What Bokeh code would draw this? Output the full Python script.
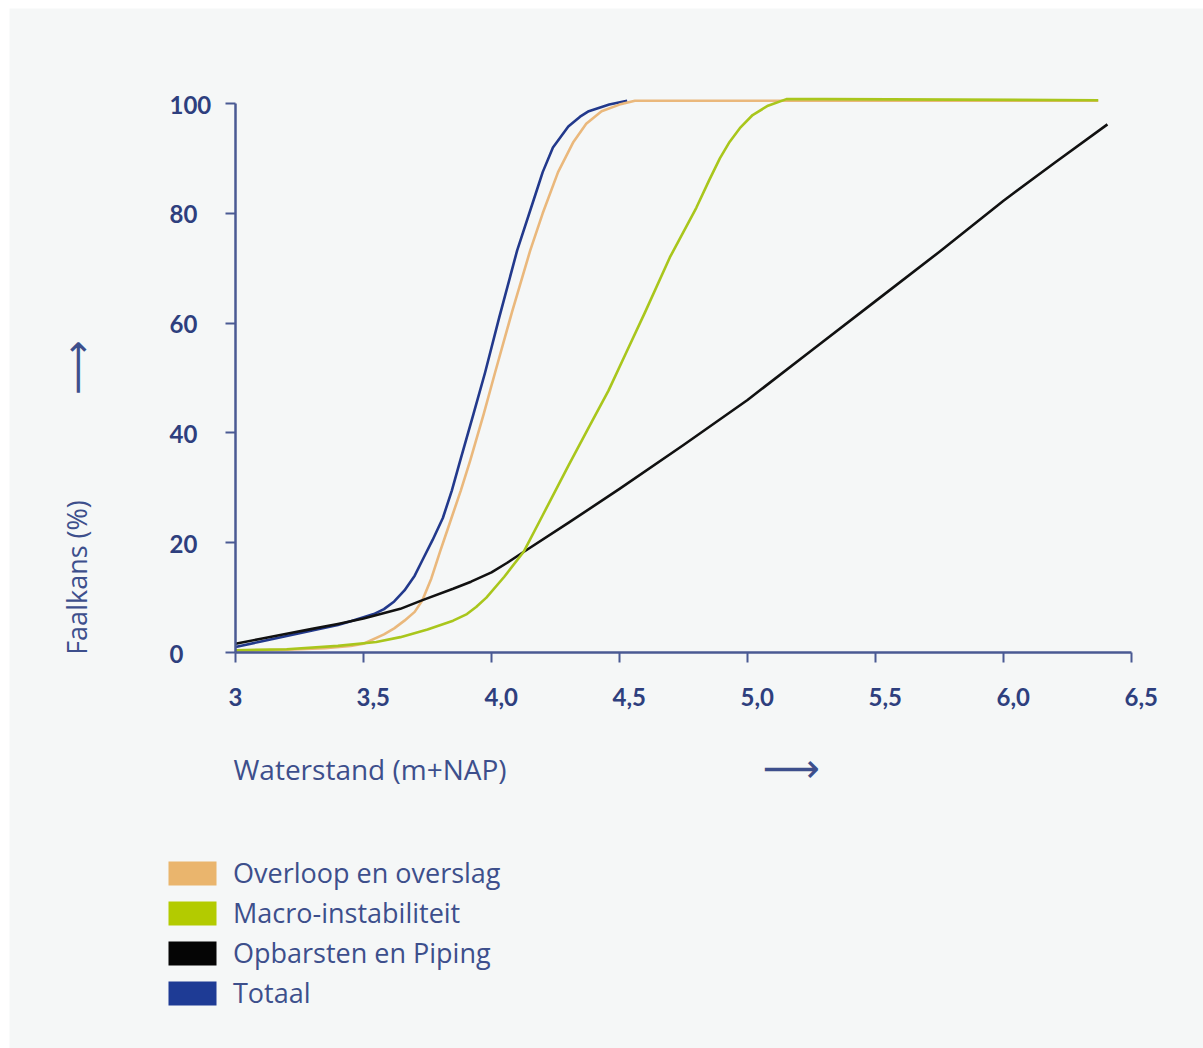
import math
from bokeh.plotting import figure
from bokeh.models import Range1d, FixedTicker, Label, Legend, LegendItem, LinearAxis, BoxAnnotation
from bokeh.core.properties import value
from bokeh.embed import file_html
from bokeh.resources import INLINE

# ---------------- data ----------------
series_names = ["Overloop en overslag", "Macro-instabiliteit", "Opbarsten en Piping", "Totaal"]

overloop_x = [3.0, 3.2, 3.35, 3.45, 3.5, 3.58, 3.62, 3.66, 3.7, 3.73, 3.765, 3.8, 3.84, 3.88,
              3.917, 3.97, 4.014, 4.08, 4.151, 4.2, 4.26, 4.32, 4.37, 4.43, 4.5, 4.56, 6.37]
overloop_y = [0.3, 0.5, 0.8, 1.2, 1.6, 3.3, 4.4, 5.8, 7.4, 9.5, 13.5, 18.5, 24.0, 29.5,
              35.0, 43.5, 51.0, 62.0, 73.2, 80.0, 87.5, 93.0, 96.3, 98.6, 99.8, 100.5, 100.5]

macro_x = [3.0, 3.2, 3.4, 3.55, 3.644, 3.75, 3.85, 3.904, 3.94, 3.98, 4.05, 4.125, 4.2, 4.3,
           4.38, 4.457, 4.53, 4.6, 4.697, 4.8, 4.85, 4.892, 4.93, 4.97, 5.02, 5.08, 5.152, 5.3, 6.37]
macro_y = [0.4, 0.6, 1.2, 1.9, 2.8, 4.2, 5.8, 7.0, 8.3, 10.0, 13.8, 18.3, 25.0, 34.0,
           41.0, 47.7, 55.0, 62.0, 72.0, 81.0, 86.0, 90.0, 93.0, 95.5, 97.9, 99.6, 100.8, 100.8, 100.6]

piping_x = [3.0, 3.1, 3.2, 3.3, 3.4, 3.5, 3.644, 3.728, 3.85, 3.92, 4.0, 4.06, 4.125, 4.3, 4.5,
            4.75, 5.0, 5.25, 5.5, 5.75, 6.0, 6.2, 6.406]
piping_y = [1.6, 2.5, 3.4, 4.3, 5.2, 6.2, 7.95, 9.5, 11.6, 12.9, 14.6, 16.3, 18.3, 23.6, 29.8,
            37.8, 46.0, 55.0, 64.0, 73.0, 82.3, 89.2, 96.2]

totaal_x = [3.0, 3.1, 3.2, 3.3, 3.4, 3.45, 3.5, 3.54, 3.58, 3.62, 3.66, 3.7, 3.73, 3.77, 3.81,
            3.845, 3.878, 3.93, 3.975, 4.03, 4.10, 4.177, 4.2, 4.24, 4.3, 4.346, 4.38, 4.46, 4.53]
totaal_y = [1.0, 2.0, 3.0, 4.0, 5.0, 5.7, 6.4, 7.0, 7.9, 9.3, 11.3, 14.0, 16.8, 20.5, 24.5,
            29.5, 35.0, 43.5, 51.0, 61.0, 73.2, 84.2, 87.5, 92.0, 95.8, 97.6, 98.6, 99.8, 100.5]

x_ticks = [3, 3.5, 4, 4.5, 5, 5.5, 6, 6.5]
x_tick_labels = ["3", "3,5", "4,0", "4,5", "5,0", "5,5", "6,0", "6,5"]
y_ticks = [0, 20, 40, 60, 80, 100]
y_tick_labels = ["0", "20", "40", "60", "80", "100"]

x_title = "Waterstand (m+NAP)"
y_title = "Faalkans (%)"

# ---------------- layout constants (page pixels) ----------------
W, H = 1203, 1048
X0_PX, Y0_PX = 235, 652          # where x=3 / y=0 sit
PX_X, PX_Y = 256.0, 5.49         # pixels per data unit


def dx(px):
    return x_ticks[0] + (px - X0_PX) / PX_X


def dy(py):
    return y_ticks[0] + (Y0_PX - py) / PX_Y


# ---------------- style ----------------
BG = "#f5f7f7"
AXIS = "#4a5a93"
TICK = "#2e3f7e"
TXT = "#3d4f8c"
FONT = "Open Sans"
line_colors = ["#eab87c", "#a9c61c", "#111111", "#22398c"]
swatch_colors = ["#eab56d", "#b3cb00", "#050505", "#1e3b95"]

p = figure(width=W, height=H,
           x_range=Range1d(dx(0), dx(W)), y_range=Range1d(dy(H), dy(0)),
           output_backend="svg", toolbar_location=None,
           x_axis_type=None, y_axis_type=None,
           min_border=0, min_border_left=0, min_border_right=0,
           min_border_top=0, min_border_bottom=0,
           background_fill_color="white", border_fill_color="white")
p.outline_line_color = None
p.grid.visible = False

# light panel behind the chart
p.add_layout(BoxAnnotation(left=dx(9), right=dx(W + 5), top=dy(8), bottom=dy(H + 5),
                           fill_color=BG, fill_alpha=1, line_color=None, level="underlay"))

xa = LinearAxis(fixed_location=y_ticks[0])
ya = LinearAxis(fixed_location=x_ticks[0])
p.add_layout(xa, "below")
p.add_layout(ya, "left")
xa.ticker = FixedTicker(ticks=x_ticks)
ya.ticker = FixedTicker(ticks=y_ticks)
xa.bounds = (x_ticks[0], x_ticks[-1])
ya.bounds = (y_ticks[0], y_ticks[-1])
for ax in (xa, ya):
    ax.axis_line_color = AXIS
    ax.axis_line_width = 2.5
    ax.major_tick_line_color = AXIS
    ax.major_tick_line_width = 2
    ax.major_tick_out = 10
    ax.major_tick_in = 0
    ax.minor_tick_line_color = None
    ax.major_label_text_color = None   # labels drawn below as text glyphs

# tick labels (first digit sits on the tick, as in the reference)
p.text(x=x_ticks, y=[y_ticks[0]] * len(x_ticks), text=x_tick_labels,
       x_offset=-7, y_offset=44, text_align="left", text_baseline="middle",
       text_font=value("Lato"), text_font_style="bold", text_font_size=value("24px"),
       text_color=TICK)
p.text(x=[x_ticks[0]] * len(y_ticks), y=y_ticks, text=y_tick_labels,
       x_offset=-66, y_offset=1, text_align="left", text_baseline="middle",
       text_font=value("Lato"), text_font_style="bold", text_font_size=value("24px"),
       text_color=TICK)

# lines (draw order: Totaal, Overloop, Piping, Macro)
p.line(totaal_x, totaal_y, line_color=line_colors[3], line_width=2.6, line_join="round")
p.line(overloop_x, overloop_y, line_color=line_colors[0], line_width=2.6, line_join="round")
p.line(piping_x, piping_y, line_color=line_colors[2], line_width=2.6, line_join="round")
p.line(macro_x, macro_y, line_color=line_colors[1], line_width=2.6, line_join="round")

p.add_layout(Label(x=dx(233), y=dy(768), text=x_title, text_font=FONT, text_font_size="28px",
                   text_color=TXT, text_align="left", text_baseline="middle"))
p.add_layout(Label(x=dx(791), y=dy(767), text="\u27f6", text_font="DejaVu Sans", text_font_size="40px",
                   text_color=TXT, text_align="center", text_baseline="middle"))
p.add_layout(Label(x=dx(76), y=dy(577), text=y_title, text_font=FONT, text_font_size="27px",
                   text_color=TXT, text_align="center", text_baseline="middle", angle=math.pi / 2))
p.add_layout(Label(x=dx(76), y=dy(367), text="\u27f6", text_font="DejaVu Sans", text_font_size="38px",
                   text_color=TXT, text_align="center", text_baseline="middle", angle=math.pi / 2))

nan = float("nan")
items = []
for name, col in zip(series_names, swatch_colors):
    r = p.quad(left=[nan], right=[nan], top=[nan], bottom=[nan], fill_color=col, line_color=None)
    items.append(LegendItem(label=name, renderers=[r]))
legend = Legend(items=items, location=(162, 37), orientation="vertical",
                padding=0, margin=0, spacing=3,
                glyph_width=60, glyph_height=30, label_standoff=11, label_height=32,
                label_text_font=FONT, label_text_font_size="27px", label_text_color=TXT,
                background_fill_alpha=0, border_line_alpha=0)
p.add_layout(legend)

open("out.html", "w").write(file_html(p, INLINE))
